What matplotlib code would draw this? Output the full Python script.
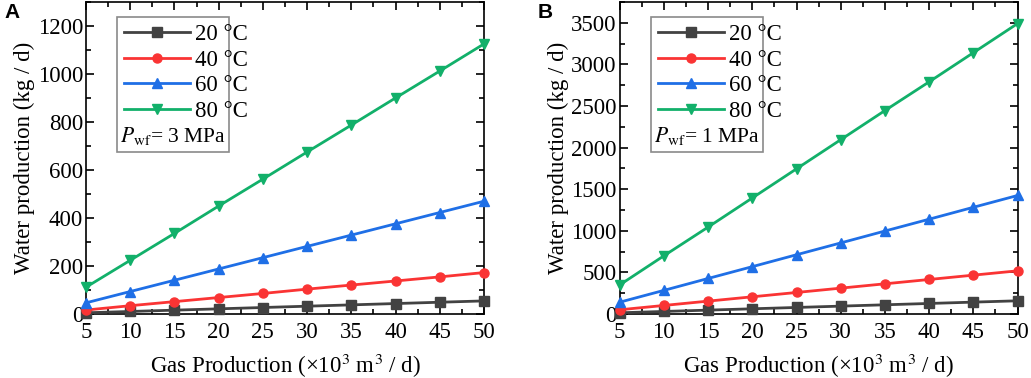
import matplotlib.pyplot as plt
from matplotlib.patches import Rectangle
from matplotlib.ticker import MultipleLocator

plt.rcParams['font.family'] = ['Liberation Serif', 'DejaVu Serif']
plt.rcParams['mathtext.fontset'] = 'stix'

gas = [5, 10, 15, 20, 25, 30, 35, 40, 45, 50]
labels = ['20 °C', '40 °C', '60 °C', '80 °C']

# panel A, Pwf = 3 MPa
a_20 = [5.5, 11, 16.5, 22, 27.5, 33, 38.5, 44, 49.5, 55]
a_40 = [17, 35, 52, 69, 86, 104, 121, 138, 155, 173]
a_60 = [47, 94, 141, 188, 235, 282, 329, 376, 423, 470]
a_80 = [112, 224, 336, 450, 562, 675, 787, 900, 1012, 1125]

# panel B, Pwf = 1 MPa
b_20 = [16, 32, 48, 64, 80, 96, 112, 128, 144, 160]
b_40 = [52, 104, 156, 208, 260, 312, 364, 416, 468, 520]
b_60 = [143, 285, 428, 570, 713, 855, 998, 1140, 1283, 1425]
b_80 = [350, 700, 1045, 1395, 1745, 2095, 2445, 2790, 3140, 3490]

colors = ['#424242', '#fa3434', '#1f6fe6', '#12b06a']
markers = ['s', 'o', '^', 'v']
FS = 16.5

fig = plt.figure(figsize=(10.31, 3.78), dpi=100)
ax1 = fig.add_axes([0.0834, 0.169, 0.386, 0.826])
ax2 = fig.add_axes([0.601, 0.169, 0.386, 0.826])


def draw(ax, series, ymax, ymaj, pwf, tag):
    lines = []
    for y, c, m, lab in zip(series, colors, markers, labels):
        ln, = ax.plot(gas, y, color=c, marker=m, markersize=6.5, lw=2,
                      label=lab, clip_on=False, zorder=3)
        lines.append(ln)
    ax.set_xlim(5, 50)
    ax.set_ylim(0, ymax)
    ax.xaxis.set_major_locator(MultipleLocator(5))
    ax.xaxis.set_minor_locator(MultipleLocator(2.5))
    ax.yaxis.set_major_locator(MultipleLocator(ymaj))
    ax.yaxis.set_minor_locator(MultipleLocator(ymaj / 2))
    ax.tick_params(which='both', direction='in', top=True, right=True,
                   labelsize=FS, width=1.2)
    ax.tick_params(which='major', length=6)
    ax.tick_params(which='minor', length=3.5)
    ax.tick_params(axis='x', pad=6)
    ax.tick_params(axis='y', pad=2)
    for s in ax.spines.values():
        s.set_linewidth(1.2)
    ax.set_xlabel('Gas Production (×10$^3$ m$^3$ / d)', fontsize=FS, labelpad=6)
    ax.set_ylabel('Water production (kg / d)', fontsize=FS, labelpad=2)

    ax.legend(handles=lines, loc='upper left', bbox_to_anchor=(0.055, 0.98),
              frameon=False, fontsize=FS, handlelength=2.9,
              handletextpad=0.2, labelspacing=0.2, borderpad=0.2)
    ax.add_patch(Rectangle((0.078, 0.519), 0.281, 0.433, transform=ax.transAxes,
                           fill=False, ec='#8a8a8a', lw=1.2, zorder=4))
    ax.text(0.086, 0.572, '$P_{\\rm wf}$= ' + pwf, transform=ax.transAxes,
            fontsize=15.5, va='center', ha='left')
    ax.text(-0.205, 0.965, tag, transform=ax.transAxes, fontsize=15,
            fontweight='bold', family='Liberation Sans', va='center', ha='left')


draw(ax1, [a_20, a_40, a_60, a_80], 1300, 200, '3 MPa', 'A')
draw(ax2, [b_20, b_40, b_60, b_80], 3750, 500, '1 MPa', 'B')

fig.savefig('out.png', dpi=100)
